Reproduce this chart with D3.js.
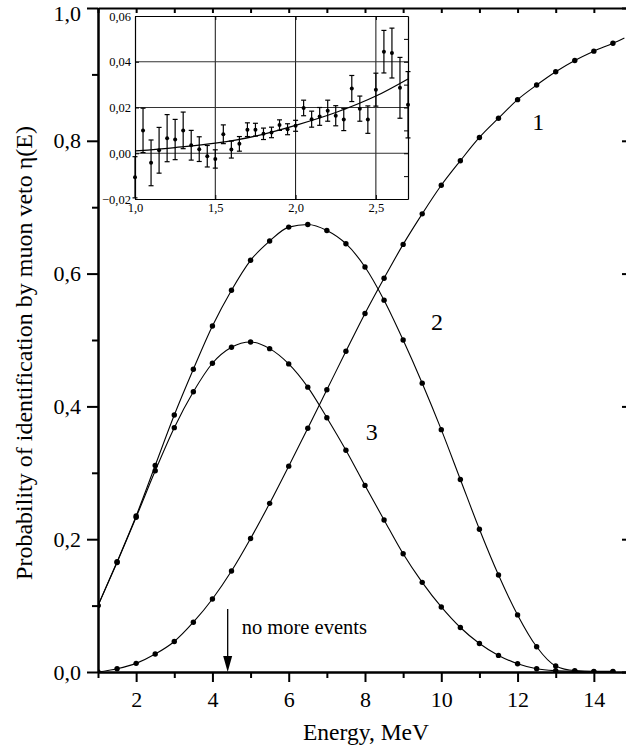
<!DOCTYPE html>
<html>
<head>
<meta charset="utf-8">
<script src="https://cdn.jsdelivr.net/npm/d3@7"></script>
<style>
  body { margin: 0; background: #fff; }
  svg, svg text { font-family: "Liberation Serif", "Times New Roman", serif; }
</style>
</head>
<body>
<svg id="chart" width="626" height="753"></svg>
<script>
// --- main plot data ---
const energy = [1, 1.5, 2, 2.5, 3, 3.5, 4, 4.5, 5, 5.5, 6, 6.5, 7, 7.5, 8, 8.5, 9, 9.5,
  10, 10.5, 11, 11.5, 12, 12.5, 13, 13.5, 14, 14.5];
const curve1 = [0.0, 0.005, 0.013, 0.027, 0.046, 0.075, 0.110, 0.152, 0.201, 0.254, 0.310,
  0.367, 0.425, 0.483, 0.540, 0.593, 0.644, 0.690, 0.733, 0.770, 0.805, 0.834, 0.862,
  0.884, 0.904, 0.921, 0.935, 0.947];
const curve2 = [0.100, 0.166, 0.235, 0.311, 0.387, 0.456, 0.521, 0.575, 0.620, 0.649, 0.670,
  0.674, 0.665, 0.645, 0.610, 0.560, 0.500, 0.435, 0.365, 0.290, 0.215, 0.146, 0.086,
  0.038, 0.009, 0.002, 0.001, 0.001];
const curve3 = [0.100, 0.165, 0.233, 0.303, 0.368, 0.422, 0.465, 0.489, 0.497, 0.487, 0.464,
  0.429, 0.383, 0.334, 0.281, 0.229, 0.178, 0.135, 0.098, 0.067, 0.043, 0.025, 0.0125,
  0.005, 0.002, 0.001, 0.0, 0.0];
// curve 1 keeps going to the right edge of the frame
const curve1Tail = { e: 14.8, p: 0.955 };

const curveLabels = [
  { text: "1", e: 12.54, p: 0.816 },
  { text: "2", e: 9.89, p: 0.515 },
  { text: "3", e: 8.18, p: 0.349 }
];
const arrowEnergy = 4.4;
const arrowText = "no more events";

const xTicks = [2, 4, 6, 8, 10, 12, 14];
const xMinorTicks = [1, 3, 5, 7, 9, 11, 13];
const yTicks = [0, 0.2, 0.4, 0.6, 0.8, 1.0];
const yMinorTicks = [0.1, 0.3, 0.5, 0.7, 0.9];

// --- inset data ---
const insetEnergy = [1.00, 1.05, 1.10, 1.15, 1.20, 1.25, 1.30, 1.35, 1.40, 1.45, 1.50, 1.55,
  1.60, 1.65, 1.70, 1.75, 1.80, 1.85, 1.90, 1.95, 2.00, 2.05, 2.10, 2.15, 2.20, 2.25, 2.30,
  2.35, 2.40, 2.45, 2.50, 2.55, 2.60, 2.65, 2.70];
const insetValue = [-0.0105, 0.0100, -0.0042, 0.0013, 0.0066, 0.0060, 0.0100, 0.0035, 0.0018,
  -0.0013, -0.0025, 0.0083, 0.0016, 0.0041, 0.0103, 0.0103, 0.0085, 0.0091, 0.0123, 0.0105,
  0.0120, 0.0198, 0.0149, 0.0161, 0.0186, 0.0164, 0.0147, 0.0283, 0.0195, 0.0147, 0.0278,
  0.0444, 0.0438, 0.0286, 0.0212];
const insetError = [0.0090, 0.0097, 0.0100, 0.0100, 0.0103, 0.0088, 0.0080, 0.0065, 0.0054,
  0.0047, 0.0040, 0.0041, 0.0037, 0.0032, 0.0030, 0.0028, 0.0025, 0.0023, 0.0023, 0.0024,
  0.0024, 0.0034, 0.0035, 0.0039, 0.0046, 0.0044, 0.0048, 0.0057, 0.0055, 0.0060, 0.0072,
  0.0093, 0.0109, 0.0133, 0.0145];
const insetFitEnergy = [1.0, 1.25, 1.5, 1.75, 2.0, 2.25, 2.5, 2.7];
const insetFit = [0.001, 0.0025, 0.0044, 0.0075, 0.0122, 0.0178, 0.025, 0.0325];
const insetXTicks = [1.0, 1.5, 2.0, 2.5];
const insetYTicks = [-0.02, 0.0, 0.02, 0.04, 0.06];
const insetGridX = [1.5, 2.0, 2.5];
const insetGridY = [0.0, 0.02, 0.04];

const FONT = '"Liberation Serif", "Times New Roman", serif';
const svg = d3.select("#chart");
const comma = (f) => (v) => d3.format(f)(v).replace(".", ",");

// main scales
const x = d3.scaleLinear().domain([1, 15]).range([98, 632]);
const y = d3.scaleLinear().domain([0, 1]).range([672, 8]);

svg.append("clipPath").attr("id", "plotClip")
  .append("rect").attr("x", 98).attr("y", 8).attr("width", 534).attr("height", 664);

// --- axes ---
function styleAxis(g, fontSize) {
  g.attr("font-family", FONT);
  g.select(".domain").attr("stroke-width", 2).attr("stroke", "#000");
  g.selectAll(".tick line").attr("stroke-width", 2).attr("stroke", "#000");
  g.selectAll(".tick text").attr("font-size", fontSize).attr("fill", "#000")
    .style("font-family", FONT);
}

// bottom
svg.append("g").attr("transform", "translate(0,672)")
  .call(d3.axisBottom(x).tickValues(xMinorTicks).tickSize(6).tickFormat("").tickSizeOuter(0))
  .call((g) => styleAxis(g, 22));
svg.append("g").attr("transform", "translate(0,672)")
  .call(d3.axisBottom(x).tickValues(xTicks).tickSize(10).tickPadding(9).tickSizeOuter(0))
  .call((g) => styleAxis(g, 22));

// left
svg.append("g").attr("transform", "translate(98,0)")
  .call(d3.axisLeft(y).tickValues(yMinorTicks).tickSize(6).tickFormat("").tickSizeOuter(0))
  .call((g) => styleAxis(g, 22));
const yAxisG = svg.append("g").attr("transform", "translate(98,0)")
  .call(d3.axisLeft(y).tickValues(yTicks).tickSize(11).tickPadding(6)
    .tickFormat(comma(".1f")).tickSizeOuter(0))
  .call((g) => styleAxis(g, 22));
// the top label sits a little lower so it is not cut by the page edge
yAxisG.selectAll(".tick text").filter((d) => d === 1.0).attr("dy", "0.58em");

// top and right, ticks pointing inwards
svg.append("g").attr("transform", "translate(0,8)")
  .call(d3.axisTop(x).tickValues(xTicks.concat(xMinorTicks)).tickSize(-5).tickFormat("").tickSizeOuter(0))
  .call((g) => styleAxis(g, 22));
svg.append("g").attr("transform", "translate(632,0)")
  .call(d3.axisRight(y).tickValues(yTicks).tickSize(-10).tickFormat("").tickSizeOuter(0))
  .call((g) => styleAxis(g, 22));
svg.append("g").attr("transform", "translate(632,0)")
  .call(d3.axisRight(y).tickValues(yMinorTicks).tickSize(-5).tickFormat("").tickSizeOuter(0))
  .call((g) => styleAxis(g, 22));

// axis titles
svg.append("text")
  .attr("x", 366).attr("y", 740)
  .attr("text-anchor", "middle")
  .attr("font-size", 23.5)
  .style("font-family", FONT)
  .text("Energy, MeV");

svg.append("text")
  .attr("transform", "translate(32,353) rotate(-90)")
  .attr("text-anchor", "middle")
  .attr("font-size", 24)
  .style("font-family", FONT)
  .text("Probability of identification by muon veto  η(E)");

// --- curves ---
const plot = svg.append("g").attr("clip-path", "url(#plotClip)");
const line = d3.line()
  .x((d) => x(d.e))
  .y((d) => y(d.p))
  .curve(d3.curveMonotoneX);

const series = [curve1, curve2, curve3].map((vals) =>
  energy.map((e, i) => ({ e: e, p: vals[i] }))
);

series.forEach((pts, k) => {
  const linePts = k === 0 ? pts.concat([curve1Tail]) : pts;
  plot.append("path")
    .datum(linePts)
    .attr("fill", "none")
    .attr("stroke", "#000")
    .attr("stroke-width", 1.1)
    .attr("d", line);

  plot.append("g")
    .selectAll("circle")
    .data(pts)
    .enter()
    .append("circle")
    .attr("cx", (d) => x(d.e))
    .attr("cy", (d) => y(d.p))
    .attr("r", 2.7)
    .attr("fill", "#000");
});

svg.append("g")
  .selectAll("text")
  .data(curveLabels)
  .enter()
  .append("text")
  .attr("x", (d) => x(d.e))
  .attr("y", (d) => y(d.p))
  .attr("text-anchor", "middle")
  .attr("font-size", 24)
  .style("font-family", FONT)
  .text((d) => d.text);

// arrow "no more events"
const ax = x(arrowEnergy);
svg.append("line")
  .attr("x1", ax).attr("x2", ax)
  .attr("y1", y(0) - 63).attr("y2", y(0) - 12)
  .attr("stroke", "#000").attr("stroke-width", 1.3);
svg.append("path")
  .attr("d", `M${ax - 4.5},${y(0) - 16} L${ax + 4.5},${y(0) - 16} L${ax},${y(0)} Z`)
  .attr("fill", "#000");
svg.append("text")
  .attr("x", ax + 14).attr("y", y(0) - 38)
  .attr("font-size", 20.5)
  .style("font-family", FONT)
  .text(arrowText);

// --- inset ---
const ix = d3.scaleLinear().domain([1.0, 2.7]).range([135, 408]);
const iy = d3.scaleLinear().domain([-0.02, 0.06]).range([199, 16]);
const inset = svg.append("g");

inset.append("rect")
  .attr("x", 135).attr("y", 16).attr("width", 273).attr("height", 183)
  .attr("fill", "#fff");

inset.append("g")
  .selectAll("line")
  .data(insetGridX)
  .enter()
  .append("line")
  .attr("x1", (d) => ix(d)).attr("x2", (d) => ix(d))
  .attr("y1", 16).attr("y2", 199)
  .attr("stroke", "#111").attr("stroke-width", 1);
inset.append("g")
  .selectAll("line")
  .data(insetGridY)
  .enter()
  .append("line")
  .attr("x1", 135).attr("x2", 408)
  .attr("y1", (d) => iy(d)).attr("y2", (d) => iy(d))
  .attr("stroke", "#333").attr("stroke-width", 1);

function styleInsetAxis(g) {
  g.attr("font-family", FONT);
  g.select(".domain").attr("stroke-width", 1.2).attr("stroke", "#000");
  g.selectAll(".tick line").attr("stroke-width", 1).attr("stroke", "#000");
  g.selectAll(".tick text").attr("font-size", 12.5).attr("fill", "#000")
    .style("font-family", FONT);
}

inset.append("g").attr("transform", "translate(0,199)")
  .call(d3.axisBottom(ix).tickValues(insetXTicks).tickSize(-4).tickPadding(4)
    .tickFormat(comma(".1f")).tickSizeOuter(0))
  .call(styleInsetAxis);
inset.append("g").attr("transform", "translate(135,0)")
  .call(d3.axisLeft(iy).tickValues(insetYTicks).tickSize(-4).tickPadding(4)
    .tickFormat(comma(".2f")).tickSizeOuter(0))
  .call(styleInsetAxis);
inset.append("g").attr("transform", "translate(0,16)")
  .call(d3.axisTop(ix).tickValues(insetXTicks).tickSize(-4).tickFormat("").tickSizeOuter(0))
  .call(styleInsetAxis);
inset.append("g").attr("transform", "translate(408,0)")
  .call(d3.axisRight(iy).tickValues([-0.01, 0.0, 0.01, 0.02, 0.03, 0.04, 0.05])
    .tickSize(-4).tickFormat("").tickSizeOuter(0))
  .call(styleInsetAxis);

const insetPts = insetEnergy.map((e, i) => ({ e: e, v: insetValue[i], err: insetError[i] }));

const bars = inset.append("g").selectAll("g")
  .data(insetPts)
  .enter()
  .append("g");
bars.append("line")
  .attr("x1", (d) => ix(d.e)).attr("x2", (d) => ix(d.e))
  .attr("y1", (d) => iy(d.v - d.err)).attr("y2", (d) => iy(d.v + d.err))
  .attr("stroke", "#000").attr("stroke-width", 1.2);
[-1, 1].forEach((s) => {
  bars.append("line")
    .attr("x1", (d) => ix(d.e) - 2.5).attr("x2", (d) => ix(d.e) + 2.5)
    .attr("y1", (d) => iy(d.v + s * d.err)).attr("y2", (d) => iy(d.v + s * d.err))
    .attr("stroke", "#000").attr("stroke-width", 1.2);
});
bars.append("circle")
  .attr("cx", (d) => ix(d.e))
  .attr("cy", (d) => iy(d.v))
  .attr("r", 2)
  .attr("fill", "#000");

inset.append("path")
  .datum(insetFitEnergy.map((e, i) => ({ e: e, v: insetFit[i] })))
  .attr("fill", "none")
  .attr("stroke", "#000")
  .attr("stroke-width", 1.2)
  .attr("d", d3.line().x((d) => ix(d.e)).y((d) => iy(d.v)).curve(d3.curveMonotoneX));
</script>
</body>
</html>
